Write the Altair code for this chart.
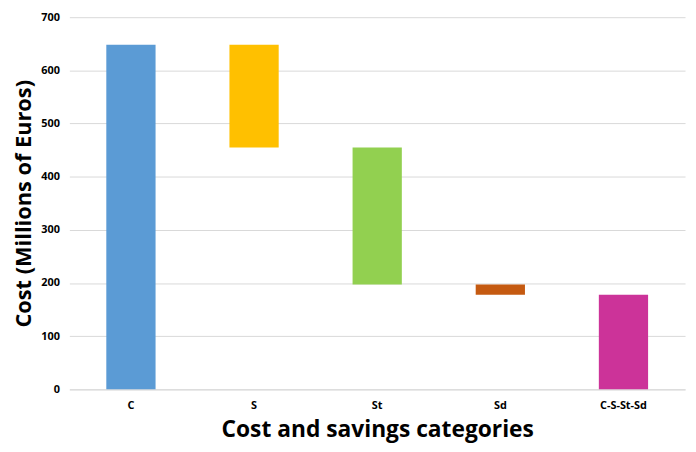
import altair as alt
import pandas as pd

categories = ["C", "S", "St", "Sd", "C-S-St-Sd"]
starts = [0, 455, 197, 178, 0]
ends = [648, 648, 455, 197, 178]
colors = ["#5B9BD5", "#FFC000", "#92D050", "#C55A11", "#CC3399"]

df = pd.DataFrame({"cat": categories, "start": starts, "end": ends, "color": colors})

FONT = "Open Sans"

chart = alt.Chart(df).mark_bar().encode(
    x=alt.X("cat:N", sort=categories,
            scale=alt.Scale(paddingInner=0.6, paddingOuter=0.3),
            axis=alt.Axis(title="Cost and savings categories", labelAngle=0, ticks=False,
                          domainColor="#d9d9d9", labelPadding=10, titlePadding=9,
                          labelFontSize=11, labelFontWeight="bold", labelColor="#000",
                          titleFontSize=23, titleFontWeight="bold", titleColor="#000",
                          labelFont=FONT, titleFont=FONT)),
    y=alt.Y("start:Q", scale=alt.Scale(domain=[0, 700], nice=False),
            axis=alt.Axis(title="Cost (Millions of Euros)", values=[0, 100, 200, 300, 400, 500, 600, 700],
                          domain=False, ticks=False, grid=True, gridColor="#d9d9d9",
                          labelPadding=10, titlePadding=5,
                          labelFontSize=11, labelFontWeight="bold", labelColor="#000",
                          titleFontSize=22, titleFontWeight="bold", titleColor="#000",
                          labelFont=FONT, titleFont=FONT)),
    y2="end:Q",
    color=alt.Color("color:N", scale=None),
).properties(
    width=622, height=376,
    autosize=alt.AutoSizeParams(type="none"),
    padding={"left": 62, "top": 7, "right": 3, "bottom": 60},
).configure_view(stroke=None)

chart.save("out.html", embed_options={"renderer": "svg", "actions": False})
